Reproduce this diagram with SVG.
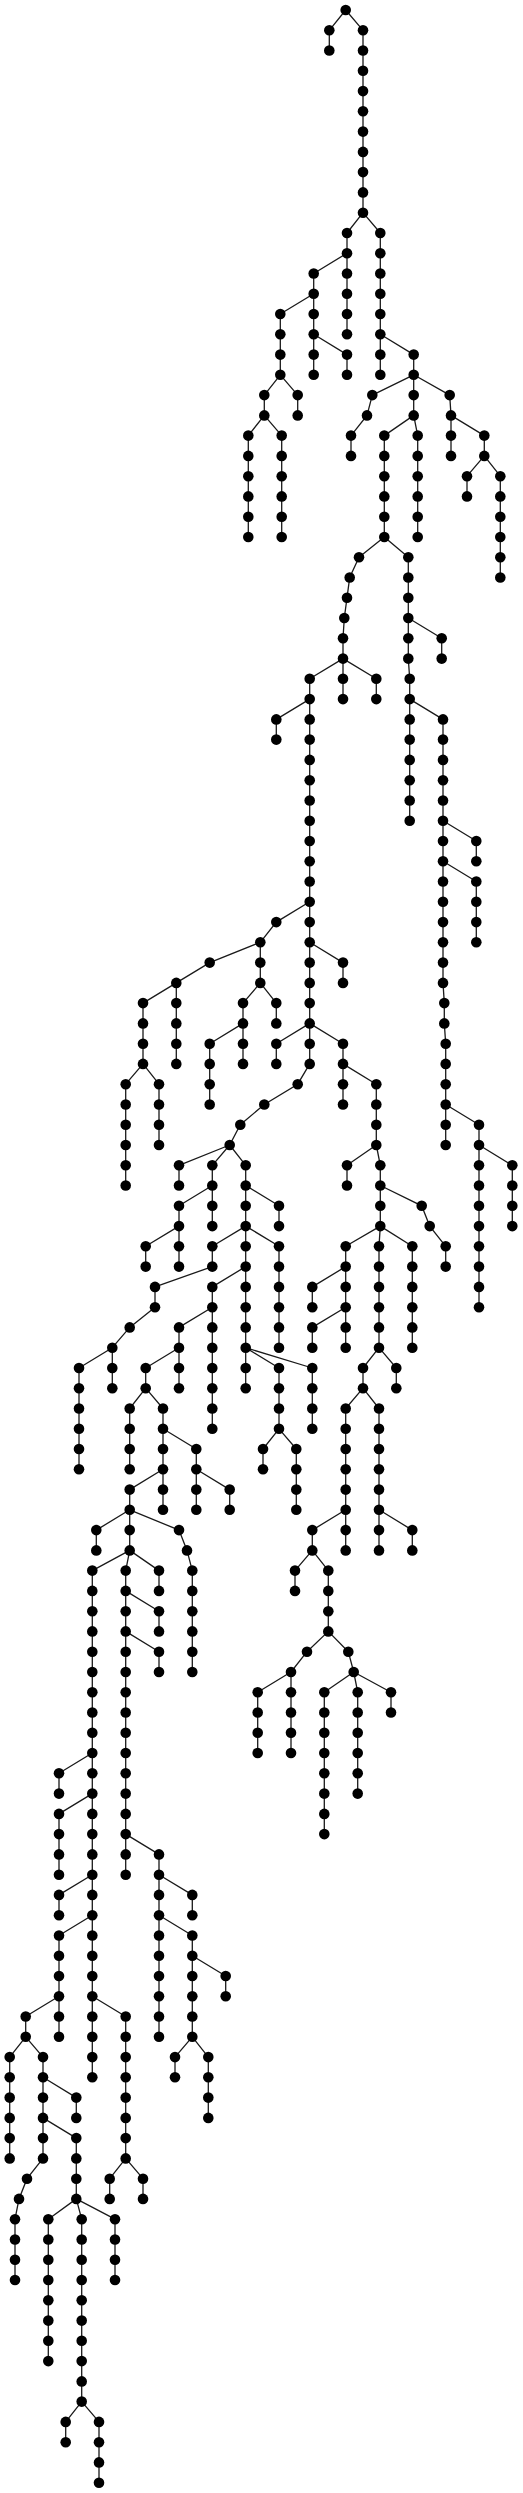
<svg xmlns="http://www.w3.org/2000/svg" width="523" height="2493" viewBox="0 0 523 2493">
<style>
.e{fill:none;stroke:#1a1a1a;stroke-width:1.3}
.nodes circle{fill:#000}
</style>
<rect width="523" height="2493" fill="#fff"/>
<g id="connectors" class="e">
<path d="M329.3 30.3V50.5M363 30.3V212.7M347 233V334.3M380.3 233V374.8M313.7 273.5V374.8M280.3 314V374.8M347 354.6V374.8M413.7 354.6V415.4M264.3 395.1V415.4M297.7 395.1V415.4M248.3 435.6V537M281.7 435.6V537M351 435.6V455.9M451 415.4V455.9M484.3 435.6V455.9M467 476.2V496.4M500.3 476.2V577.5M384.3 435.6V537M417.7 435.6V537M343 638.3V699.1M408.3 557.2V658.6M441.7 638.3V658.6M309.7 678.8V1063.9M376.3 678.8V699.1M409.7 678.8V820.7M443 719.4V982.9M444.3 1003.1V1023.4M445.7 1043.7V1145M476.3 841V861.3M476.3 881.5V942.3M479 1124.7V1307.2M512.3 1165.3V1226.1M276.3 719.4V739.6M260.3 942.3V982.9M176.3 982.9V1063.9M143 1003.1V1063.9M243 1003.1V1063.9M209.7 1043.7V1104.5M276.3 1003.1V1023.4M343 962.6V982.9M276.3 1043.7V1063.9M343 1043.7V1104.5M376.3 1084.2V1145M179 1165.3V1185.5M212.3 1165.3V1226.1M179 1205.8V1266.6M245.7 1165.3V1388.2M279 1205.8V1226.1M125.7 1084.2V1185.5M159 1084.2V1145M347 1165.3V1185.5M380.3 1165.3V1226.1M445.7 1246.3V1266.6M345.7 1246.3V1347.7M312.3 1286.9V1307.2M312.3 1327.4V1347.7M379 1246.3V1347.7M396.3 1368V1388.2M363 1368V1388.2M412.3 1246.3V1347.7M345.7 1408.5V1550.4M312.3 1530.1V1550.4M295 1570.6V1590.9M328.3 1570.6V1631.4M291 1672V1753M257.7 1692.2V1753M324.3 1692.2V1834.1M357.7 1692.2V1793.6M391 1692.2V1712.5M379 1408.5V1550.4M412.3 1530.1V1550.4M145.7 1246.3V1266.6M212.3 1246.3V1266.6M155 1286.9V1307.2M112.3 1347.7V1388.2M79 1368V1469.3M212.3 1286.9V1428.8M179 1327.4V1388.2M145.7 1368V1388.2M129.7 1408.5V1469.3M163 1408.5V1509.8M279 1246.3V1347.7M279 1368V1428.8M312.3 1368V1428.8M263 1449V1469.3M296.3 1449V1509.8M196.3 1449V1509.8M229.7 1489.6V1509.8M129.7 1489.6V1550.4M96.3 1530.1V1550.4M192.3 1570.6V1672M92.3 1570.6V2077.3M125.7 1570.6V1874.7M159 1570.6V1590.9M159 1611.2V1631.4M159 1651.7V1672M159 1854.4V2036.8M192.3 1894.9V1915.2M192.3 1935.5V2036.8M225.7 1976V1996.3M175 2057.1V2077.3M208.3 2057.1V2117.9M59 1773.3V1793.6M59 1813.9V1874.7M59 1894.9V1915.2M59 1935.5V2036.8M25.7 2016.5V2036.8M9.7 2057.1V2158.4M43 2057.1V2158.4M76.3 2097.6V2117.9M76.3 2138.1V2198.9M15 2219.2V2280M125.7 2016.5V2158.4M109.7 2178.7V2198.9M143 2178.7V2198.9M48.3 2219.2V2361.1M81.7 2219.2V2401.6M115 2219.2V2280M65.7 2421.9V2442.2M99 2421.9V2482.7"/>
<path d="M345.7 10L329.3 30.3M345.7 10L363 30.3M363 212.7L347 233M363 212.7L380.3 233M347 253.2L313.7 273.5M313.7 293.8L280.3 314M313.7 334.3L347 354.6M380.3 334.3L413.7 354.6M280.3 374.8L264.3 395.1M280.3 374.8L297.7 395.1M264.3 415.4L248.3 435.6M264.3 415.4L281.7 435.6M413.7 374.8L372.3 395.1M413.7 374.8L449.7 395.1M372.3 395.1L367 415.4L351 435.6M449.7 395.1L451 415.4M451 415.4L484.3 435.6M484.3 455.9L467 476.2M484.3 455.9L500.3 476.2M413.7 415.4L384.3 435.6M413.7 415.4L417.7 435.6M384.3 537L359 557.2M384.3 537L408.3 557.2M359 557.2L349.7 577.5L347 597.8L344.3 618L343 638.3M408.3 618L441.7 638.3M343 658.6L309.7 678.8M343 658.6L376.3 678.8M408.3 658.6L409.7 678.8M409.7 699.1L443 719.4M443 982.9L444.3 1003.1M444.3 1023.4L445.7 1043.7M443 820.7L476.3 841M443 861.3L476.3 881.5M445.7 1104.5L479 1124.7M479 1145L512.3 1165.3M309.7 699.1L276.3 719.4M309.7 901.8L276.3 922.1L260.3 942.3M260.3 942.3L209.7 962.6L176.3 982.9M176.3 982.9L143 1003.1M260.3 982.9L243 1003.1M260.3 982.9L276.3 1003.1M243 1023.4L209.7 1043.7M309.7 942.3L343 962.6M309.7 1023.4L276.3 1043.7M309.7 1023.4L343 1043.7M343 1063.9L376.3 1084.2M309.7 1063.9L297.7 1084.2L264.3 1104.5L240.3 1124.7L229.7 1145M229.7 1145L179 1165.3M229.7 1145L212.3 1165.3M229.7 1145L245.7 1165.3M212.3 1185.5L179 1205.8M245.7 1185.5L279 1205.8M143 1063.9L125.7 1084.2M143 1063.9L159 1084.2M376.3 1145L347 1165.3M376.3 1145L380.3 1165.3M380.3 1185.5L421.7 1205.8L429.7 1226.1L445.7 1246.3M380.3 1226.1L345.7 1246.3M380.3 1226.1L379 1246.3M380.3 1226.1L412.3 1246.3M345.7 1266.6L312.3 1286.9M345.7 1307.2L312.3 1327.4M379 1347.7L363 1368M379 1347.7L396.3 1368M363 1388.2L345.7 1408.5M363 1388.2L379 1408.5M345.7 1509.8L312.3 1530.1M312.3 1550.4L295 1570.6M312.3 1550.4L328.3 1570.6M328.3 1631.4L307 1651.7M328.3 1631.4L348.3 1651.7M307 1651.7L291 1672M291 1672L257.7 1692.2M348.3 1651.7L353.7 1672M353.7 1672L324.3 1692.2M353.7 1672L357.7 1692.2M353.7 1672L391 1692.2M379 1509.8L412.3 1530.1M179 1226.1L145.7 1246.3M245.7 1226.1L212.3 1246.3M245.7 1226.1L279 1246.3M212.3 1266.6L155 1286.9M155 1307.2L129.7 1327.4L112.3 1347.7M112.3 1347.7L79 1368M245.7 1266.6L212.3 1286.9M212.3 1307.2L179 1327.4M179 1347.7L145.7 1368M145.7 1388.2L129.7 1408.5M145.7 1388.2L163 1408.5M245.7 1347.7L279 1368M245.7 1347.7L312.3 1368M279 1428.8L263 1449M279 1428.8L296.3 1449M163 1428.8L196.3 1449M196.3 1469.3L229.7 1489.6M163 1469.3L129.7 1489.6M129.7 1509.8L96.3 1530.1M129.7 1509.8L179 1530.1L187 1550.4L192.3 1570.6M129.7 1550.4L92.3 1570.6M129.7 1550.4L125.7 1570.6M129.7 1550.4L159 1570.6M125.7 1590.9L159 1611.2M125.7 1631.4L159 1651.7M125.7 1834.1L159 1854.4M159 1874.7L192.3 1894.9M159 1915.2L192.3 1935.5M192.3 1955.7L225.7 1976M192.3 2036.8L175 2057.1M192.3 2036.8L208.3 2057.1M92.3 1753L59 1773.3M92.3 1793.6L59 1813.9M92.3 1874.7L59 1894.9M92.3 1915.2L59 1935.5M59 1996.3L25.7 2016.5M25.7 2036.8L9.7 2057.1M25.7 2036.8L43 2057.1M43 2077.3L76.3 2097.6M43 2117.9L76.3 2138.1M43 2158.4L27 2178.7L19 2198.9L15 2219.2M92.3 1996.3L125.7 2016.5M125.7 2158.4L109.7 2178.7M125.7 2158.4L143 2178.7M76.3 2198.9L48.3 2219.2M76.3 2198.9L81.7 2219.2M76.3 2198.9L115 2219.2M81.7 2401.6L65.7 2421.9M81.7 2401.6L99 2421.9"/>
</g>
<g class="nodes">
<g id="c1r0"><circle cx="345.7" cy="10" r="5.3"/></g>
<g id="c2r1"><circle cx="329.3" cy="30.3" r="5.3"/></g>
<g id="c2r2"><circle cx="329.3" cy="50.5" r="5.3"/></g>
<g id="c3r1"><circle cx="363" cy="30.3" r="5.3"/></g>
<g id="c3r2"><circle cx="363" cy="50.5" r="5.3"/></g>
<g id="c3r3"><circle cx="363" cy="70.8" r="5.3"/></g>
<g id="c3r4"><circle cx="363" cy="91.1" r="5.3"/></g>
<g id="c3r5"><circle cx="363" cy="111.3" r="5.3"/></g>
<g id="c3r6"><circle cx="363" cy="131.6" r="5.3"/></g>
<g id="c3r7"><circle cx="363" cy="151.9" r="5.3"/></g>
<g id="c3r8"><circle cx="363" cy="172.1" r="5.3"/></g>
<g id="c3r9"><circle cx="363" cy="192.4" r="5.3"/></g>
<g id="c3r10"><circle cx="363" cy="212.7" r="5.3"/></g>
<g id="c4r11"><circle cx="347" cy="233" r="5.3"/></g>
<g id="c4r12"><circle cx="347" cy="253.2" r="5.3"/></g>
<g id="c4r13"><circle cx="347" cy="273.5" r="5.3"/></g>
<g id="c4r14"><circle cx="347" cy="293.8" r="5.3"/></g>
<g id="c4r15"><circle cx="347" cy="314" r="5.3"/></g>
<g id="c4r16"><circle cx="347" cy="334.3" r="5.3"/></g>
<g id="c5r11"><circle cx="380.3" cy="233" r="5.3"/></g>
<g id="c5r12"><circle cx="380.3" cy="253.2" r="5.3"/></g>
<g id="c5r13"><circle cx="380.3" cy="273.5" r="5.3"/></g>
<g id="c5r14"><circle cx="380.3" cy="293.8" r="5.3"/></g>
<g id="c5r15"><circle cx="380.3" cy="314" r="5.3"/></g>
<g id="c5r16"><circle cx="380.3" cy="334.3" r="5.3"/></g>
<g id="c5r17"><circle cx="380.3" cy="354.6" r="5.3"/></g>
<g id="c5r18"><circle cx="380.3" cy="374.8" r="5.3"/></g>
<g id="c6r13"><circle cx="313.7" cy="273.5" r="5.3"/></g>
<g id="c6r14"><circle cx="313.7" cy="293.8" r="5.3"/></g>
<g id="c6r15"><circle cx="313.7" cy="314" r="5.3"/></g>
<g id="c6r16"><circle cx="313.7" cy="334.3" r="5.3"/></g>
<g id="c6r17"><circle cx="313.7" cy="354.6" r="5.3"/></g>
<g id="c6r18"><circle cx="313.7" cy="374.8" r="5.3"/></g>
<g id="c7r15"><circle cx="280.3" cy="314" r="5.3"/></g>
<g id="c7r16"><circle cx="280.3" cy="334.3" r="5.3"/></g>
<g id="c7r17"><circle cx="280.3" cy="354.6" r="5.3"/></g>
<g id="c7r18"><circle cx="280.3" cy="374.8" r="5.3"/></g>
<g id="c8r17"><circle cx="347" cy="354.6" r="5.3"/></g>
<g id="c8r18"><circle cx="347" cy="374.8" r="5.3"/></g>
<g id="c9r17"><circle cx="413.7" cy="354.6" r="5.3"/></g>
<g id="c9r18"><circle cx="413.7" cy="374.8" r="5.3"/></g>
<g id="c9r19"><circle cx="413.7" cy="395.1" r="5.3"/></g>
<g id="c9r20"><circle cx="413.7" cy="415.4" r="5.3"/></g>
<g id="c10r19"><circle cx="264.3" cy="395.1" r="5.3"/></g>
<g id="c10r20"><circle cx="264.3" cy="415.4" r="5.3"/></g>
<g id="c11r19"><circle cx="297.7" cy="395.1" r="5.3"/></g>
<g id="c11r20"><circle cx="297.7" cy="415.4" r="5.3"/></g>
<g id="c12r21"><circle cx="248.3" cy="435.6" r="5.3"/></g>
<g id="c12r22"><circle cx="248.3" cy="455.9" r="5.3"/></g>
<g id="c12r23"><circle cx="248.3" cy="476.2" r="5.3"/></g>
<g id="c12r24"><circle cx="248.3" cy="496.4" r="5.3"/></g>
<g id="c12r25"><circle cx="248.3" cy="516.7" r="5.3"/></g>
<g id="c12r26"><circle cx="248.3" cy="537" r="5.3"/></g>
<g id="c13r21"><circle cx="281.7" cy="435.6" r="5.3"/></g>
<g id="c13r22"><circle cx="281.7" cy="455.9" r="5.3"/></g>
<g id="c13r23"><circle cx="281.7" cy="476.2" r="5.3"/></g>
<g id="c13r24"><circle cx="281.7" cy="496.4" r="5.3"/></g>
<g id="c13r25"><circle cx="281.7" cy="516.7" r="5.3"/></g>
<g id="c13r26"><circle cx="281.7" cy="537" r="5.3"/></g>
<g id="c14r19"><circle cx="372.3" cy="395.1" r="5.3"/></g>
<g id="c14r20"><circle cx="367" cy="415.4" r="5.3"/></g>
<g id="c14r21"><circle cx="351" cy="435.6" r="5.3"/></g>
<g id="c14r22"><circle cx="351" cy="455.9" r="5.3"/></g>
<g id="c15r19"><circle cx="449.7" cy="395.1" r="5.3"/></g>
<g id="c15r20"><circle cx="451" cy="415.4" r="5.3"/></g>
<g id="c15r21"><circle cx="451" cy="435.6" r="5.3"/></g>
<g id="c15r22"><circle cx="451" cy="455.9" r="5.3"/></g>
<g id="c16r21"><circle cx="484.3" cy="435.6" r="5.3"/></g>
<g id="c16r22"><circle cx="484.3" cy="455.9" r="5.3"/></g>
<g id="c17r23"><circle cx="467" cy="476.2" r="5.3"/></g>
<g id="c17r24"><circle cx="467" cy="496.4" r="5.3"/></g>
<g id="c18r23"><circle cx="500.3" cy="476.2" r="5.3"/></g>
<g id="c18r24"><circle cx="500.3" cy="496.4" r="5.3"/></g>
<g id="c18r25"><circle cx="500.3" cy="516.7" r="5.3"/></g>
<g id="c18r26"><circle cx="500.3" cy="537" r="5.3"/></g>
<g id="c18r27"><circle cx="500.3" cy="557.2" r="5.3"/></g>
<g id="c18r28"><circle cx="500.3" cy="577.5" r="5.3"/></g>
<g id="c19r21"><circle cx="384.3" cy="435.6" r="5.3"/></g>
<g id="c19r22"><circle cx="384.3" cy="455.9" r="5.3"/></g>
<g id="c19r23"><circle cx="384.3" cy="476.2" r="5.3"/></g>
<g id="c19r24"><circle cx="384.3" cy="496.4" r="5.3"/></g>
<g id="c19r25"><circle cx="384.3" cy="516.7" r="5.3"/></g>
<g id="c19r26"><circle cx="384.3" cy="537" r="5.3"/></g>
<g id="c20r21"><circle cx="417.7" cy="435.6" r="5.3"/></g>
<g id="c20r22"><circle cx="417.7" cy="455.9" r="5.3"/></g>
<g id="c20r23"><circle cx="417.7" cy="476.2" r="5.3"/></g>
<g id="c20r24"><circle cx="417.7" cy="496.4" r="5.3"/></g>
<g id="c20r25"><circle cx="417.7" cy="516.7" r="5.3"/></g>
<g id="c20r26"><circle cx="417.7" cy="537" r="5.3"/></g>
<g id="c21r27"><circle cx="359" cy="557.2" r="5.3"/></g>
<g id="c21r28"><circle cx="349.7" cy="577.5" r="5.3"/></g>
<g id="c21r29"><circle cx="347" cy="597.8" r="5.3"/></g>
<g id="c21r30"><circle cx="344.3" cy="618" r="5.3"/></g>
<g id="c21r31"><circle cx="343" cy="638.3" r="5.3"/></g>
<g id="c21r32"><circle cx="343" cy="658.6" r="5.3"/></g>
<g id="c22r27"><circle cx="408.3" cy="557.2" r="5.3"/></g>
<g id="c22r28"><circle cx="408.3" cy="577.5" r="5.3"/></g>
<g id="c22r29"><circle cx="408.3" cy="597.8" r="5.3"/></g>
<g id="c22r30"><circle cx="408.3" cy="618" r="5.3"/></g>
<g id="c22r31"><circle cx="408.3" cy="638.3" r="5.3"/></g>
<g id="c22r32"><circle cx="408.3" cy="658.6" r="5.3"/></g>
<g id="c23r31"><circle cx="441.7" cy="638.3" r="5.3"/></g>
<g id="c23r32"><circle cx="441.7" cy="658.6" r="5.3"/></g>
<g id="c24r33"><circle cx="309.7" cy="678.8" r="5.3"/></g>
<g id="c24r34"><circle cx="309.7" cy="699.1" r="5.3"/></g>
<g id="c24r35"><circle cx="309.7" cy="719.4" r="5.3"/></g>
<g id="c24r36"><circle cx="309.7" cy="739.6" r="5.3"/></g>
<g id="c24r37"><circle cx="309.7" cy="759.9" r="5.3"/></g>
<g id="c24r38"><circle cx="309.7" cy="780.2" r="5.3"/></g>
<g id="c24r39"><circle cx="309.7" cy="800.5" r="5.3"/></g>
<g id="c24r40"><circle cx="309.7" cy="820.7" r="5.3"/></g>
<g id="c24r41"><circle cx="309.7" cy="841" r="5.3"/></g>
<g id="c24r42"><circle cx="309.7" cy="861.3" r="5.3"/></g>
<g id="c24r43"><circle cx="309.7" cy="881.5" r="5.3"/></g>
<g id="c24r44"><circle cx="309.7" cy="901.8" r="5.3"/></g>
<g id="c24r45"><circle cx="309.7" cy="922.1" r="5.3"/></g>
<g id="c24r46"><circle cx="309.7" cy="942.3" r="5.3"/></g>
<g id="c24r47"><circle cx="309.7" cy="962.6" r="5.3"/></g>
<g id="c24r48"><circle cx="309.7" cy="982.9" r="5.3"/></g>
<g id="c24r49"><circle cx="309.7" cy="1003.1" r="5.3"/></g>
<g id="c24r50"><circle cx="309.7" cy="1023.4" r="5.3"/></g>
<g id="c24r51"><circle cx="309.7" cy="1043.7" r="5.3"/></g>
<g id="c24r52"><circle cx="309.7" cy="1063.9" r="5.3"/></g>
<g id="c25r33"><circle cx="343" cy="678.8" r="5.3"/></g>
<g id="c25r34"><circle cx="343" cy="699.1" r="5.3"/></g>
<g id="c26r33"><circle cx="376.3" cy="678.8" r="5.3"/></g>
<g id="c26r34"><circle cx="376.3" cy="699.1" r="5.3"/></g>
<g id="c27r33"><circle cx="409.7" cy="678.8" r="5.3"/></g>
<g id="c27r34"><circle cx="409.7" cy="699.1" r="5.3"/></g>
<g id="c27r35"><circle cx="409.7" cy="719.4" r="5.3"/></g>
<g id="c27r36"><circle cx="409.7" cy="739.6" r="5.3"/></g>
<g id="c27r37"><circle cx="409.7" cy="759.9" r="5.3"/></g>
<g id="c27r38"><circle cx="409.7" cy="780.2" r="5.3"/></g>
<g id="c27r39"><circle cx="409.7" cy="800.5" r="5.3"/></g>
<g id="c27r40"><circle cx="409.7" cy="820.7" r="5.3"/></g>
<g id="c28r35"><circle cx="443" cy="719.4" r="5.3"/></g>
<g id="c28r36"><circle cx="443" cy="739.6" r="5.3"/></g>
<g id="c28r37"><circle cx="443" cy="759.9" r="5.3"/></g>
<g id="c28r38"><circle cx="443" cy="780.2" r="5.3"/></g>
<g id="c28r39"><circle cx="443" cy="800.5" r="5.3"/></g>
<g id="c28r40"><circle cx="443" cy="820.7" r="5.3"/></g>
<g id="c28r41"><circle cx="443" cy="841" r="5.3"/></g>
<g id="c28r42"><circle cx="443" cy="861.3" r="5.3"/></g>
<g id="c28r43"><circle cx="443" cy="881.5" r="5.3"/></g>
<g id="c28r44"><circle cx="443" cy="901.8" r="5.3"/></g>
<g id="c28r45"><circle cx="443" cy="922.1" r="5.3"/></g>
<g id="c28r46"><circle cx="443" cy="942.3" r="5.3"/></g>
<g id="c28r47"><circle cx="443" cy="962.6" r="5.3"/></g>
<g id="c28r48"><circle cx="443" cy="982.9" r="5.3"/></g>
<g id="c28r49"><circle cx="444.3" cy="1003.1" r="5.3"/></g>
<g id="c28r50"><circle cx="444.3" cy="1023.4" r="5.3"/></g>
<g id="c28r51"><circle cx="445.7" cy="1043.7" r="5.3"/></g>
<g id="c28r52"><circle cx="445.7" cy="1063.9" r="5.3"/></g>
<g id="c28r53"><circle cx="445.7" cy="1084.2" r="5.3"/></g>
<g id="c28r54"><circle cx="445.7" cy="1104.5" r="5.3"/></g>
<g id="c28r55"><circle cx="445.7" cy="1124.7" r="5.3"/></g>
<g id="c28r56"><circle cx="445.7" cy="1145" r="5.3"/></g>
<g id="c29r41"><circle cx="476.3" cy="841" r="5.3"/></g>
<g id="c29r42"><circle cx="476.3" cy="861.3" r="5.3"/></g>
<g id="c30r43"><circle cx="476.3" cy="881.5" r="5.3"/></g>
<g id="c30r44"><circle cx="476.3" cy="901.8" r="5.3"/></g>
<g id="c30r45"><circle cx="476.3" cy="922.1" r="5.3"/></g>
<g id="c30r46"><circle cx="476.3" cy="942.3" r="5.3"/></g>
<g id="c31r55"><circle cx="479" cy="1124.7" r="5.3"/></g>
<g id="c31r56"><circle cx="479" cy="1145" r="5.3"/></g>
<g id="c31r57"><circle cx="479" cy="1165.3" r="5.3"/></g>
<g id="c31r58"><circle cx="479" cy="1185.5" r="5.3"/></g>
<g id="c31r59"><circle cx="479" cy="1205.8" r="5.3"/></g>
<g id="c31r60"><circle cx="479" cy="1226.1" r="5.3"/></g>
<g id="c31r61"><circle cx="479" cy="1246.3" r="5.3"/></g>
<g id="c31r62"><circle cx="479" cy="1266.6" r="5.3"/></g>
<g id="c31r63"><circle cx="479" cy="1286.9" r="5.3"/></g>
<g id="c31r64"><circle cx="479" cy="1307.2" r="5.3"/></g>
<g id="c32r57"><circle cx="512.3" cy="1165.3" r="5.3"/></g>
<g id="c32r58"><circle cx="512.3" cy="1185.5" r="5.3"/></g>
<g id="c32r59"><circle cx="512.3" cy="1205.8" r="5.3"/></g>
<g id="c32r60"><circle cx="512.3" cy="1226.1" r="5.3"/></g>
<g id="c33r35"><circle cx="276.3" cy="719.4" r="5.3"/></g>
<g id="c33r36"><circle cx="276.3" cy="739.6" r="5.3"/></g>
<g id="c34r45"><circle cx="276.3" cy="922.1" r="5.3"/></g>
<g id="c34r46"><circle cx="260.3" cy="942.3" r="5.3"/></g>
<g id="c34r47"><circle cx="260.3" cy="962.6" r="5.3"/></g>
<g id="c34r48"><circle cx="260.3" cy="982.9" r="5.3"/></g>
<g id="c35r47"><circle cx="209.7" cy="962.6" r="5.3"/></g>
<g id="c35r48"><circle cx="176.3" cy="982.9" r="5.3"/></g>
<g id="c35r49"><circle cx="176.3" cy="1003.1" r="5.3"/></g>
<g id="c35r50"><circle cx="176.3" cy="1023.4" r="5.3"/></g>
<g id="c35r51"><circle cx="176.3" cy="1043.7" r="5.3"/></g>
<g id="c35r52"><circle cx="176.3" cy="1063.9" r="5.3"/></g>
<g id="c36r49"><circle cx="143" cy="1003.1" r="5.3"/></g>
<g id="c36r50"><circle cx="143" cy="1023.4" r="5.3"/></g>
<g id="c36r51"><circle cx="143" cy="1043.7" r="5.3"/></g>
<g id="c36r52"><circle cx="143" cy="1063.9" r="5.3"/></g>
<g id="c37r49"><circle cx="243" cy="1003.1" r="5.3"/></g>
<g id="c37r50"><circle cx="243" cy="1023.4" r="5.3"/></g>
<g id="c37r51"><circle cx="243" cy="1043.7" r="5.3"/></g>
<g id="c37r52"><circle cx="243" cy="1063.9" r="5.3"/></g>
<g id="c38r51"><circle cx="209.7" cy="1043.7" r="5.3"/></g>
<g id="c38r52"><circle cx="209.7" cy="1063.9" r="5.3"/></g>
<g id="c38r53"><circle cx="209.7" cy="1084.2" r="5.3"/></g>
<g id="c38r54"><circle cx="209.7" cy="1104.5" r="5.3"/></g>
<g id="c39r49"><circle cx="276.3" cy="1003.1" r="5.3"/></g>
<g id="c39r50"><circle cx="276.3" cy="1023.4" r="5.3"/></g>
<g id="c40r47"><circle cx="343" cy="962.6" r="5.3"/></g>
<g id="c40r48"><circle cx="343" cy="982.9" r="5.3"/></g>
<g id="c41r51"><circle cx="276.3" cy="1043.7" r="5.3"/></g>
<g id="c41r52"><circle cx="276.3" cy="1063.9" r="5.3"/></g>
<g id="c42r51"><circle cx="343" cy="1043.7" r="5.3"/></g>
<g id="c42r52"><circle cx="343" cy="1063.9" r="5.3"/></g>
<g id="c42r53"><circle cx="343" cy="1084.2" r="5.3"/></g>
<g id="c42r54"><circle cx="343" cy="1104.5" r="5.3"/></g>
<g id="c43r53"><circle cx="376.3" cy="1084.2" r="5.3"/></g>
<g id="c43r54"><circle cx="376.3" cy="1104.5" r="5.3"/></g>
<g id="c43r55"><circle cx="376.3" cy="1124.7" r="5.3"/></g>
<g id="c43r56"><circle cx="376.3" cy="1145" r="5.3"/></g>
<g id="c44r53"><circle cx="297.7" cy="1084.2" r="5.3"/></g>
<g id="c44r54"><circle cx="264.3" cy="1104.5" r="5.3"/></g>
<g id="c44r55"><circle cx="240.3" cy="1124.7" r="5.3"/></g>
<g id="c44r56"><circle cx="229.7" cy="1145" r="5.3"/></g>
<g id="c45r57"><circle cx="179" cy="1165.3" r="5.3"/></g>
<g id="c45r58"><circle cx="179" cy="1185.5" r="5.3"/></g>
<g id="c46r57"><circle cx="212.3" cy="1165.3" r="5.3"/></g>
<g id="c46r58"><circle cx="212.3" cy="1185.5" r="5.3"/></g>
<g id="c46r59"><circle cx="212.3" cy="1205.8" r="5.3"/></g>
<g id="c46r60"><circle cx="212.3" cy="1226.1" r="5.3"/></g>
<g id="c47r59"><circle cx="179" cy="1205.8" r="5.3"/></g>
<g id="c47r60"><circle cx="179" cy="1226.1" r="5.3"/></g>
<g id="c48r57"><circle cx="245.7" cy="1165.3" r="5.3"/></g>
<g id="c48r58"><circle cx="245.7" cy="1185.5" r="5.3"/></g>
<g id="c48r59"><circle cx="245.7" cy="1205.8" r="5.3"/></g>
<g id="c48r60"><circle cx="245.7" cy="1226.1" r="5.3"/></g>
<g id="c49r59"><circle cx="279" cy="1205.8" r="5.3"/></g>
<g id="c49r60"><circle cx="279" cy="1226.1" r="5.3"/></g>
<g id="c50r53"><circle cx="125.7" cy="1084.2" r="5.3"/></g>
<g id="c50r54"><circle cx="125.7" cy="1104.5" r="5.3"/></g>
<g id="c50r55"><circle cx="125.7" cy="1124.7" r="5.3"/></g>
<g id="c50r56"><circle cx="125.7" cy="1145" r="5.3"/></g>
<g id="c50r57"><circle cx="125.7" cy="1165.3" r="5.3"/></g>
<g id="c50r58"><circle cx="125.7" cy="1185.5" r="5.3"/></g>
<g id="c51r53"><circle cx="159" cy="1084.2" r="5.3"/></g>
<g id="c51r54"><circle cx="159" cy="1104.5" r="5.3"/></g>
<g id="c51r55"><circle cx="159" cy="1124.7" r="5.3"/></g>
<g id="c51r56"><circle cx="159" cy="1145" r="5.3"/></g>
<g id="c52r57"><circle cx="347" cy="1165.3" r="5.3"/></g>
<g id="c52r58"><circle cx="347" cy="1185.5" r="5.3"/></g>
<g id="c53r57"><circle cx="380.3" cy="1165.3" r="5.3"/></g>
<g id="c53r58"><circle cx="380.3" cy="1185.5" r="5.3"/></g>
<g id="c53r59"><circle cx="380.3" cy="1205.8" r="5.3"/></g>
<g id="c53r60"><circle cx="380.3" cy="1226.1" r="5.3"/></g>
<g id="c54r59"><circle cx="421.7" cy="1205.8" r="5.3"/></g>
<g id="c54r60"><circle cx="429.7" cy="1226.1" r="5.3"/></g>
<g id="c54r61"><circle cx="445.7" cy="1246.3" r="5.3"/></g>
<g id="c54r62"><circle cx="445.7" cy="1266.6" r="5.3"/></g>
<g id="c55r61"><circle cx="345.7" cy="1246.3" r="5.3"/></g>
<g id="c55r62"><circle cx="345.7" cy="1266.6" r="5.3"/></g>
<g id="c55r63"><circle cx="345.7" cy="1286.9" r="5.3"/></g>
<g id="c55r64"><circle cx="345.7" cy="1307.2" r="5.3"/></g>
<g id="c55r65"><circle cx="345.7" cy="1327.4" r="5.3"/></g>
<g id="c55r66"><circle cx="345.7" cy="1347.7" r="5.3"/></g>
<g id="c56r63"><circle cx="312.3" cy="1286.9" r="5.3"/></g>
<g id="c56r64"><circle cx="312.3" cy="1307.2" r="5.3"/></g>
<g id="c57r65"><circle cx="312.3" cy="1327.4" r="5.3"/></g>
<g id="c57r66"><circle cx="312.3" cy="1347.7" r="5.3"/></g>
<g id="c58r61"><circle cx="379" cy="1246.3" r="5.3"/></g>
<g id="c58r62"><circle cx="379" cy="1266.6" r="5.3"/></g>
<g id="c58r63"><circle cx="379" cy="1286.9" r="5.3"/></g>
<g id="c58r64"><circle cx="379" cy="1307.2" r="5.3"/></g>
<g id="c58r65"><circle cx="379" cy="1327.4" r="5.3"/></g>
<g id="c58r66"><circle cx="379" cy="1347.7" r="5.3"/></g>
<g id="c59r67"><circle cx="396.3" cy="1368" r="5.3"/></g>
<g id="c59r68"><circle cx="396.3" cy="1388.2" r="5.3"/></g>
<g id="c60r67"><circle cx="363" cy="1368" r="5.3"/></g>
<g id="c60r68"><circle cx="363" cy="1388.2" r="5.3"/></g>
<g id="c61r61"><circle cx="412.3" cy="1246.3" r="5.3"/></g>
<g id="c61r62"><circle cx="412.3" cy="1266.6" r="5.3"/></g>
<g id="c61r63"><circle cx="412.3" cy="1286.9" r="5.3"/></g>
<g id="c61r64"><circle cx="412.3" cy="1307.2" r="5.3"/></g>
<g id="c61r65"><circle cx="412.3" cy="1327.4" r="5.3"/></g>
<g id="c61r66"><circle cx="412.3" cy="1347.7" r="5.3"/></g>
<g id="c62r69"><circle cx="345.7" cy="1408.5" r="5.3"/></g>
<g id="c62r70"><circle cx="345.7" cy="1428.8" r="5.3"/></g>
<g id="c62r71"><circle cx="345.7" cy="1449" r="5.3"/></g>
<g id="c62r72"><circle cx="345.7" cy="1469.3" r="5.3"/></g>
<g id="c62r73"><circle cx="345.7" cy="1489.6" r="5.3"/></g>
<g id="c62r74"><circle cx="345.7" cy="1509.8" r="5.3"/></g>
<g id="c62r75"><circle cx="345.7" cy="1530.1" r="5.3"/></g>
<g id="c62r76"><circle cx="345.7" cy="1550.4" r="5.3"/></g>
<g id="c63r75"><circle cx="312.3" cy="1530.1" r="5.3"/></g>
<g id="c63r76"><circle cx="312.3" cy="1550.4" r="5.3"/></g>
<g id="c64r77"><circle cx="295" cy="1570.6" r="5.3"/></g>
<g id="c64r78"><circle cx="295" cy="1590.9" r="5.3"/></g>
<g id="c65r77"><circle cx="328.3" cy="1570.6" r="5.3"/></g>
<g id="c65r78"><circle cx="328.3" cy="1590.9" r="5.3"/></g>
<g id="c65r79"><circle cx="328.3" cy="1611.2" r="5.3"/></g>
<g id="c65r80"><circle cx="328.3" cy="1631.4" r="5.3"/></g>
<g id="c66r81"><circle cx="307" cy="1651.7" r="5.3"/></g>
<g id="c66r82"><circle cx="291" cy="1672" r="5.3"/></g>
<g id="c66r83"><circle cx="291" cy="1692.2" r="5.3"/></g>
<g id="c66r84"><circle cx="291" cy="1712.5" r="5.3"/></g>
<g id="c66r85"><circle cx="291" cy="1732.8" r="5.3"/></g>
<g id="c66r86"><circle cx="291" cy="1753" r="5.3"/></g>
<g id="c67r83"><circle cx="257.7" cy="1692.2" r="5.3"/></g>
<g id="c67r84"><circle cx="257.7" cy="1712.5" r="5.3"/></g>
<g id="c67r85"><circle cx="257.7" cy="1732.8" r="5.3"/></g>
<g id="c67r86"><circle cx="257.7" cy="1753" r="5.3"/></g>
<g id="c68r81"><circle cx="348.3" cy="1651.7" r="5.3"/></g>
<g id="c68r82"><circle cx="353.7" cy="1672" r="5.3"/></g>
<g id="c69r83"><circle cx="324.3" cy="1692.2" r="5.3"/></g>
<g id="c69r84"><circle cx="324.3" cy="1712.5" r="5.3"/></g>
<g id="c69r85"><circle cx="324.3" cy="1732.8" r="5.3"/></g>
<g id="c69r86"><circle cx="324.3" cy="1753" r="5.3"/></g>
<g id="c69r87"><circle cx="324.3" cy="1773.3" r="5.3"/></g>
<g id="c69r88"><circle cx="324.3" cy="1793.6" r="5.3"/></g>
<g id="c69r89"><circle cx="324.3" cy="1813.9" r="5.3"/></g>
<g id="c69r90"><circle cx="324.3" cy="1834.1" r="5.3"/></g>
<g id="c70r83"><circle cx="357.7" cy="1692.2" r="5.3"/></g>
<g id="c70r84"><circle cx="357.7" cy="1712.5" r="5.3"/></g>
<g id="c70r85"><circle cx="357.7" cy="1732.8" r="5.3"/></g>
<g id="c70r86"><circle cx="357.7" cy="1753" r="5.3"/></g>
<g id="c70r87"><circle cx="357.7" cy="1773.3" r="5.3"/></g>
<g id="c70r88"><circle cx="357.7" cy="1793.6" r="5.3"/></g>
<g id="c71r83"><circle cx="391" cy="1692.2" r="5.3"/></g>
<g id="c71r84"><circle cx="391" cy="1712.5" r="5.3"/></g>
<g id="c72r69"><circle cx="379" cy="1408.5" r="5.3"/></g>
<g id="c72r70"><circle cx="379" cy="1428.8" r="5.3"/></g>
<g id="c72r71"><circle cx="379" cy="1449" r="5.3"/></g>
<g id="c72r72"><circle cx="379" cy="1469.3" r="5.3"/></g>
<g id="c72r73"><circle cx="379" cy="1489.6" r="5.3"/></g>
<g id="c72r74"><circle cx="379" cy="1509.8" r="5.3"/></g>
<g id="c72r75"><circle cx="379" cy="1530.1" r="5.3"/></g>
<g id="c72r76"><circle cx="379" cy="1550.4" r="5.3"/></g>
<g id="c73r75"><circle cx="412.3" cy="1530.1" r="5.3"/></g>
<g id="c73r76"><circle cx="412.3" cy="1550.4" r="5.3"/></g>
<g id="c74r61"><circle cx="145.7" cy="1246.3" r="5.3"/></g>
<g id="c74r62"><circle cx="145.7" cy="1266.6" r="5.3"/></g>
<g id="c75r61"><circle cx="179" cy="1246.3" r="5.3"/></g>
<g id="c75r62"><circle cx="179" cy="1266.6" r="5.3"/></g>
<g id="c76r61"><circle cx="212.3" cy="1246.3" r="5.3"/></g>
<g id="c76r62"><circle cx="212.3" cy="1266.6" r="5.3"/></g>
<g id="c77r63"><circle cx="155" cy="1286.9" r="5.3"/></g>
<g id="c77r64"><circle cx="155" cy="1307.2" r="5.3"/></g>
<g id="c77r65"><circle cx="129.7" cy="1327.4" r="5.3"/></g>
<g id="c77r66"><circle cx="112.3" cy="1347.7" r="5.3"/></g>
<g id="c77r67"><circle cx="112.3" cy="1368" r="5.3"/></g>
<g id="c77r68"><circle cx="112.3" cy="1388.2" r="5.3"/></g>
<g id="c78r67"><circle cx="79" cy="1368" r="5.3"/></g>
<g id="c78r68"><circle cx="79" cy="1388.2" r="5.3"/></g>
<g id="c78r69"><circle cx="79" cy="1408.5" r="5.3"/></g>
<g id="c78r70"><circle cx="79" cy="1428.8" r="5.3"/></g>
<g id="c78r71"><circle cx="79" cy="1449" r="5.3"/></g>
<g id="c78r72"><circle cx="79" cy="1469.3" r="5.3"/></g>
<g id="c79r61"><circle cx="245.7" cy="1246.3" r="5.3"/></g>
<g id="c79r62"><circle cx="245.7" cy="1266.6" r="5.3"/></g>
<g id="c79r63"><circle cx="245.7" cy="1286.9" r="5.3"/></g>
<g id="c79r64"><circle cx="245.7" cy="1307.2" r="5.3"/></g>
<g id="c79r65"><circle cx="245.7" cy="1327.4" r="5.3"/></g>
<g id="c79r66"><circle cx="245.7" cy="1347.7" r="5.3"/></g>
<g id="c79r67"><circle cx="245.7" cy="1368" r="5.3"/></g>
<g id="c79r68"><circle cx="245.7" cy="1388.2" r="5.3"/></g>
<g id="c80r63"><circle cx="212.3" cy="1286.9" r="5.3"/></g>
<g id="c80r64"><circle cx="212.3" cy="1307.2" r="5.3"/></g>
<g id="c80r65"><circle cx="212.3" cy="1327.4" r="5.3"/></g>
<g id="c80r66"><circle cx="212.3" cy="1347.7" r="5.3"/></g>
<g id="c80r67"><circle cx="212.3" cy="1368" r="5.3"/></g>
<g id="c80r68"><circle cx="212.3" cy="1388.2" r="5.3"/></g>
<g id="c80r69"><circle cx="212.3" cy="1408.5" r="5.3"/></g>
<g id="c80r70"><circle cx="212.3" cy="1428.8" r="5.3"/></g>
<g id="c81r65"><circle cx="179" cy="1327.4" r="5.3"/></g>
<g id="c81r66"><circle cx="179" cy="1347.7" r="5.3"/></g>
<g id="c81r67"><circle cx="179" cy="1368" r="5.3"/></g>
<g id="c81r68"><circle cx="179" cy="1388.2" r="5.3"/></g>
<g id="c82r67"><circle cx="145.7" cy="1368" r="5.3"/></g>
<g id="c82r68"><circle cx="145.7" cy="1388.2" r="5.3"/></g>
<g id="c83r69"><circle cx="129.7" cy="1408.5" r="5.3"/></g>
<g id="c83r70"><circle cx="129.7" cy="1428.8" r="5.3"/></g>
<g id="c83r71"><circle cx="129.7" cy="1449" r="5.3"/></g>
<g id="c83r72"><circle cx="129.7" cy="1469.3" r="5.3"/></g>
<g id="c84r69"><circle cx="163" cy="1408.5" r="5.3"/></g>
<g id="c84r70"><circle cx="163" cy="1428.8" r="5.3"/></g>
<g id="c84r71"><circle cx="163" cy="1449" r="5.3"/></g>
<g id="c84r72"><circle cx="163" cy="1469.3" r="5.3"/></g>
<g id="c84r73"><circle cx="163" cy="1489.6" r="5.3"/></g>
<g id="c84r74"><circle cx="163" cy="1509.8" r="5.3"/></g>
<g id="c85r61"><circle cx="279" cy="1246.3" r="5.3"/></g>
<g id="c85r62"><circle cx="279" cy="1266.6" r="5.3"/></g>
<g id="c85r63"><circle cx="279" cy="1286.9" r="5.3"/></g>
<g id="c85r64"><circle cx="279" cy="1307.2" r="5.3"/></g>
<g id="c85r65"><circle cx="279" cy="1327.4" r="5.3"/></g>
<g id="c85r66"><circle cx="279" cy="1347.7" r="5.3"/></g>
<g id="c86r67"><circle cx="279" cy="1368" r="5.3"/></g>
<g id="c86r68"><circle cx="279" cy="1388.2" r="5.3"/></g>
<g id="c86r69"><circle cx="279" cy="1408.5" r="5.3"/></g>
<g id="c86r70"><circle cx="279" cy="1428.8" r="5.3"/></g>
<g id="c87r67"><circle cx="312.3" cy="1368" r="5.3"/></g>
<g id="c87r68"><circle cx="312.3" cy="1388.2" r="5.3"/></g>
<g id="c87r69"><circle cx="312.3" cy="1408.5" r="5.3"/></g>
<g id="c87r70"><circle cx="312.3" cy="1428.8" r="5.3"/></g>
<g id="c88r71"><circle cx="263" cy="1449" r="5.3"/></g>
<g id="c88r72"><circle cx="263" cy="1469.3" r="5.3"/></g>
<g id="c89r71"><circle cx="296.3" cy="1449" r="5.3"/></g>
<g id="c89r72"><circle cx="296.3" cy="1469.3" r="5.3"/></g>
<g id="c89r73"><circle cx="296.3" cy="1489.6" r="5.3"/></g>
<g id="c89r74"><circle cx="296.3" cy="1509.8" r="5.3"/></g>
<g id="c90r71"><circle cx="196.3" cy="1449" r="5.3"/></g>
<g id="c90r72"><circle cx="196.3" cy="1469.3" r="5.3"/></g>
<g id="c90r73"><circle cx="196.3" cy="1489.6" r="5.3"/></g>
<g id="c90r74"><circle cx="196.3" cy="1509.8" r="5.3"/></g>
<g id="c91r73"><circle cx="229.7" cy="1489.6" r="5.3"/></g>
<g id="c91r74"><circle cx="229.7" cy="1509.8" r="5.3"/></g>
<g id="c92r73"><circle cx="129.7" cy="1489.6" r="5.3"/></g>
<g id="c92r74"><circle cx="129.7" cy="1509.8" r="5.3"/></g>
<g id="c92r75"><circle cx="129.7" cy="1530.1" r="5.3"/></g>
<g id="c92r76"><circle cx="129.7" cy="1550.4" r="5.3"/></g>
<g id="c93r75"><circle cx="96.3" cy="1530.1" r="5.3"/></g>
<g id="c93r76"><circle cx="96.3" cy="1550.4" r="5.3"/></g>
<g id="c94r75"><circle cx="179" cy="1530.1" r="5.3"/></g>
<g id="c94r76"><circle cx="187" cy="1550.4" r="5.3"/></g>
<g id="c94r77"><circle cx="192.3" cy="1570.6" r="5.3"/></g>
<g id="c94r78"><circle cx="192.3" cy="1590.9" r="5.3"/></g>
<g id="c94r79"><circle cx="192.3" cy="1611.2" r="5.3"/></g>
<g id="c94r80"><circle cx="192.3" cy="1631.4" r="5.3"/></g>
<g id="c94r81"><circle cx="192.3" cy="1651.7" r="5.3"/></g>
<g id="c94r82"><circle cx="192.3" cy="1672" r="5.3"/></g>
<g id="c95r77"><circle cx="92.3" cy="1570.6" r="5.3"/></g>
<g id="c95r78"><circle cx="92.3" cy="1590.9" r="5.3"/></g>
<g id="c95r79"><circle cx="92.3" cy="1611.2" r="5.3"/></g>
<g id="c95r80"><circle cx="92.3" cy="1631.4" r="5.3"/></g>
<g id="c95r81"><circle cx="92.3" cy="1651.7" r="5.3"/></g>
<g id="c95r82"><circle cx="92.3" cy="1672" r="5.3"/></g>
<g id="c95r83"><circle cx="92.3" cy="1692.2" r="5.3"/></g>
<g id="c95r84"><circle cx="92.3" cy="1712.5" r="5.3"/></g>
<g id="c95r85"><circle cx="92.3" cy="1732.8" r="5.3"/></g>
<g id="c95r86"><circle cx="92.3" cy="1753" r="5.3"/></g>
<g id="c95r87"><circle cx="92.3" cy="1773.3" r="5.3"/></g>
<g id="c95r88"><circle cx="92.3" cy="1793.6" r="5.3"/></g>
<g id="c95r89"><circle cx="92.3" cy="1813.9" r="5.3"/></g>
<g id="c95r90"><circle cx="92.3" cy="1834.1" r="5.3"/></g>
<g id="c95r91"><circle cx="92.3" cy="1854.4" r="5.3"/></g>
<g id="c95r92"><circle cx="92.3" cy="1874.7" r="5.3"/></g>
<g id="c95r93"><circle cx="92.3" cy="1894.9" r="5.3"/></g>
<g id="c95r94"><circle cx="92.3" cy="1915.2" r="5.3"/></g>
<g id="c95r95"><circle cx="92.3" cy="1935.5" r="5.3"/></g>
<g id="c95r96"><circle cx="92.3" cy="1955.7" r="5.3"/></g>
<g id="c95r97"><circle cx="92.3" cy="1976" r="5.3"/></g>
<g id="c95r98"><circle cx="92.3" cy="1996.3" r="5.3"/></g>
<g id="c95r99"><circle cx="92.3" cy="2016.5" r="5.3"/></g>
<g id="c95r100"><circle cx="92.3" cy="2036.8" r="5.3"/></g>
<g id="c95r101"><circle cx="92.3" cy="2057.1" r="5.3"/></g>
<g id="c95r102"><circle cx="92.3" cy="2077.3" r="5.3"/></g>
<g id="c96r77"><circle cx="125.7" cy="1570.6" r="5.3"/></g>
<g id="c96r78"><circle cx="125.7" cy="1590.9" r="5.3"/></g>
<g id="c96r79"><circle cx="125.7" cy="1611.2" r="5.3"/></g>
<g id="c96r80"><circle cx="125.7" cy="1631.4" r="5.3"/></g>
<g id="c96r81"><circle cx="125.7" cy="1651.7" r="5.3"/></g>
<g id="c96r82"><circle cx="125.7" cy="1672" r="5.3"/></g>
<g id="c96r83"><circle cx="125.7" cy="1692.2" r="5.3"/></g>
<g id="c96r84"><circle cx="125.7" cy="1712.5" r="5.3"/></g>
<g id="c96r85"><circle cx="125.7" cy="1732.8" r="5.3"/></g>
<g id="c96r86"><circle cx="125.7" cy="1753" r="5.3"/></g>
<g id="c96r87"><circle cx="125.7" cy="1773.3" r="5.3"/></g>
<g id="c96r88"><circle cx="125.7" cy="1793.6" r="5.3"/></g>
<g id="c96r89"><circle cx="125.7" cy="1813.9" r="5.3"/></g>
<g id="c96r90"><circle cx="125.7" cy="1834.1" r="5.3"/></g>
<g id="c96r91"><circle cx="125.7" cy="1854.4" r="5.3"/></g>
<g id="c96r92"><circle cx="125.7" cy="1874.7" r="5.3"/></g>
<g id="c97r77"><circle cx="159" cy="1570.6" r="5.3"/></g>
<g id="c97r78"><circle cx="159" cy="1590.9" r="5.3"/></g>
<g id="c98r79"><circle cx="159" cy="1611.2" r="5.3"/></g>
<g id="c98r80"><circle cx="159" cy="1631.4" r="5.3"/></g>
<g id="c99r81"><circle cx="159" cy="1651.7" r="5.3"/></g>
<g id="c99r82"><circle cx="159" cy="1672" r="5.3"/></g>
<g id="c100r91"><circle cx="159" cy="1854.4" r="5.3"/></g>
<g id="c100r92"><circle cx="159" cy="1874.7" r="5.3"/></g>
<g id="c100r93"><circle cx="159" cy="1894.9" r="5.3"/></g>
<g id="c100r94"><circle cx="159" cy="1915.2" r="5.3"/></g>
<g id="c100r95"><circle cx="159" cy="1935.5" r="5.3"/></g>
<g id="c100r96"><circle cx="159" cy="1955.7" r="5.3"/></g>
<g id="c100r97"><circle cx="159" cy="1976" r="5.3"/></g>
<g id="c100r98"><circle cx="159" cy="1996.3" r="5.3"/></g>
<g id="c100r99"><circle cx="159" cy="2016.5" r="5.3"/></g>
<g id="c100r100"><circle cx="159" cy="2036.8" r="5.3"/></g>
<g id="c101r93"><circle cx="192.3" cy="1894.9" r="5.3"/></g>
<g id="c101r94"><circle cx="192.3" cy="1915.2" r="5.3"/></g>
<g id="c102r95"><circle cx="192.3" cy="1935.5" r="5.3"/></g>
<g id="c102r96"><circle cx="192.3" cy="1955.7" r="5.3"/></g>
<g id="c102r97"><circle cx="192.3" cy="1976" r="5.3"/></g>
<g id="c102r98"><circle cx="192.3" cy="1996.3" r="5.3"/></g>
<g id="c102r99"><circle cx="192.3" cy="2016.5" r="5.3"/></g>
<g id="c102r100"><circle cx="192.3" cy="2036.8" r="5.3"/></g>
<g id="c103r97"><circle cx="225.7" cy="1976" r="5.3"/></g>
<g id="c103r98"><circle cx="225.7" cy="1996.3" r="5.3"/></g>
<g id="c104r101"><circle cx="175" cy="2057.1" r="5.3"/></g>
<g id="c104r102"><circle cx="175" cy="2077.3" r="5.3"/></g>
<g id="c105r101"><circle cx="208.3" cy="2057.1" r="5.3"/></g>
<g id="c105r102"><circle cx="208.3" cy="2077.3" r="5.3"/></g>
<g id="c105r103"><circle cx="208.3" cy="2097.6" r="5.3"/></g>
<g id="c105r104"><circle cx="208.3" cy="2117.9" r="5.3"/></g>
<g id="c106r87"><circle cx="59" cy="1773.3" r="5.3"/></g>
<g id="c106r88"><circle cx="59" cy="1793.6" r="5.3"/></g>
<g id="c107r89"><circle cx="59" cy="1813.9" r="5.3"/></g>
<g id="c107r90"><circle cx="59" cy="1834.1" r="5.3"/></g>
<g id="c107r91"><circle cx="59" cy="1854.4" r="5.3"/></g>
<g id="c107r92"><circle cx="59" cy="1874.7" r="5.3"/></g>
<g id="c108r93"><circle cx="59" cy="1894.9" r="5.3"/></g>
<g id="c108r94"><circle cx="59" cy="1915.2" r="5.3"/></g>
<g id="c109r95"><circle cx="59" cy="1935.5" r="5.3"/></g>
<g id="c109r96"><circle cx="59" cy="1955.7" r="5.3"/></g>
<g id="c109r97"><circle cx="59" cy="1976" r="5.3"/></g>
<g id="c109r98"><circle cx="59" cy="1996.3" r="5.3"/></g>
<g id="c109r99"><circle cx="59" cy="2016.5" r="5.3"/></g>
<g id="c109r100"><circle cx="59" cy="2036.8" r="5.3"/></g>
<g id="c110r99"><circle cx="25.7" cy="2016.5" r="5.3"/></g>
<g id="c110r100"><circle cx="25.7" cy="2036.8" r="5.3"/></g>
<g id="c111r101"><circle cx="9.7" cy="2057.1" r="5.3"/></g>
<g id="c111r102"><circle cx="9.7" cy="2077.3" r="5.3"/></g>
<g id="c111r103"><circle cx="9.7" cy="2097.6" r="5.3"/></g>
<g id="c111r104"><circle cx="9.7" cy="2117.9" r="5.3"/></g>
<g id="c111r105"><circle cx="9.7" cy="2138.1" r="5.3"/></g>
<g id="c111r106"><circle cx="9.7" cy="2158.4" r="5.3"/></g>
<g id="c112r101"><circle cx="43" cy="2057.1" r="5.3"/></g>
<g id="c112r102"><circle cx="43" cy="2077.3" r="5.3"/></g>
<g id="c112r103"><circle cx="43" cy="2097.6" r="5.3"/></g>
<g id="c112r104"><circle cx="43" cy="2117.9" r="5.3"/></g>
<g id="c112r105"><circle cx="43" cy="2138.1" r="5.3"/></g>
<g id="c112r106"><circle cx="43" cy="2158.4" r="5.3"/></g>
<g id="c113r103"><circle cx="76.3" cy="2097.6" r="5.3"/></g>
<g id="c113r104"><circle cx="76.3" cy="2117.9" r="5.3"/></g>
<g id="c114r105"><circle cx="76.3" cy="2138.1" r="5.3"/></g>
<g id="c114r106"><circle cx="76.3" cy="2158.4" r="5.3"/></g>
<g id="c114r107"><circle cx="76.3" cy="2178.7" r="5.3"/></g>
<g id="c114r108"><circle cx="76.3" cy="2198.9" r="5.3"/></g>
<g id="c115r107"><circle cx="27" cy="2178.7" r="5.3"/></g>
<g id="c115r108"><circle cx="19" cy="2198.9" r="5.3"/></g>
<g id="c115r109"><circle cx="15" cy="2219.2" r="5.3"/></g>
<g id="c115r110"><circle cx="15" cy="2239.5" r="5.3"/></g>
<g id="c115r111"><circle cx="15" cy="2259.7" r="5.3"/></g>
<g id="c115r112"><circle cx="15" cy="2280" r="5.3"/></g>
<g id="c116r99"><circle cx="125.7" cy="2016.5" r="5.3"/></g>
<g id="c116r100"><circle cx="125.7" cy="2036.8" r="5.3"/></g>
<g id="c116r101"><circle cx="125.7" cy="2057.1" r="5.3"/></g>
<g id="c116r102"><circle cx="125.7" cy="2077.3" r="5.3"/></g>
<g id="c116r103"><circle cx="125.7" cy="2097.6" r="5.3"/></g>
<g id="c116r104"><circle cx="125.7" cy="2117.9" r="5.3"/></g>
<g id="c116r105"><circle cx="125.7" cy="2138.1" r="5.3"/></g>
<g id="c116r106"><circle cx="125.7" cy="2158.4" r="5.3"/></g>
<g id="c117r107"><circle cx="109.7" cy="2178.7" r="5.3"/></g>
<g id="c117r108"><circle cx="109.7" cy="2198.9" r="5.3"/></g>
<g id="c118r107"><circle cx="143" cy="2178.7" r="5.3"/></g>
<g id="c118r108"><circle cx="143" cy="2198.9" r="5.3"/></g>
<g id="c119r109"><circle cx="48.3" cy="2219.2" r="5.3"/></g>
<g id="c119r110"><circle cx="48.3" cy="2239.5" r="5.3"/></g>
<g id="c119r111"><circle cx="48.3" cy="2259.7" r="5.3"/></g>
<g id="c119r112"><circle cx="48.3" cy="2280" r="5.3"/></g>
<g id="c119r113"><circle cx="48.3" cy="2300.3" r="5.3"/></g>
<g id="c119r114"><circle cx="48.3" cy="2320.6" r="5.3"/></g>
<g id="c119r115"><circle cx="48.3" cy="2340.8" r="5.3"/></g>
<g id="c119r116"><circle cx="48.3" cy="2361.1" r="5.3"/></g>
<g id="c120r109"><circle cx="81.7" cy="2219.2" r="5.3"/></g>
<g id="c120r110"><circle cx="81.7" cy="2239.5" r="5.3"/></g>
<g id="c120r111"><circle cx="81.7" cy="2259.7" r="5.3"/></g>
<g id="c120r112"><circle cx="81.7" cy="2280" r="5.3"/></g>
<g id="c120r113"><circle cx="81.7" cy="2300.3" r="5.3"/></g>
<g id="c120r114"><circle cx="81.7" cy="2320.6" r="5.3"/></g>
<g id="c120r115"><circle cx="81.7" cy="2340.8" r="5.3"/></g>
<g id="c120r116"><circle cx="81.7" cy="2361.1" r="5.3"/></g>
<g id="c120r117"><circle cx="81.7" cy="2381.4" r="5.3"/></g>
<g id="c120r118"><circle cx="81.7" cy="2401.6" r="5.3"/></g>
<g id="c121r109"><circle cx="115" cy="2219.2" r="5.3"/></g>
<g id="c121r110"><circle cx="115" cy="2239.5" r="5.3"/></g>
<g id="c121r111"><circle cx="115" cy="2259.7" r="5.3"/></g>
<g id="c121r112"><circle cx="115" cy="2280" r="5.3"/></g>
<g id="c122r119"><circle cx="65.7" cy="2421.9" r="5.3"/></g>
<g id="c122r120"><circle cx="65.7" cy="2442.2" r="5.3"/></g>
<g id="c123r119"><circle cx="99" cy="2421.9" r="5.3"/></g>
<g id="c123r120"><circle cx="99" cy="2442.2" r="5.3"/></g>
<g id="c123r121"><circle cx="99" cy="2462.4" r="5.3"/></g>
<g id="c123r122"><circle cx="99" cy="2482.7" r="5.3"/></g>
</g>
</svg>
